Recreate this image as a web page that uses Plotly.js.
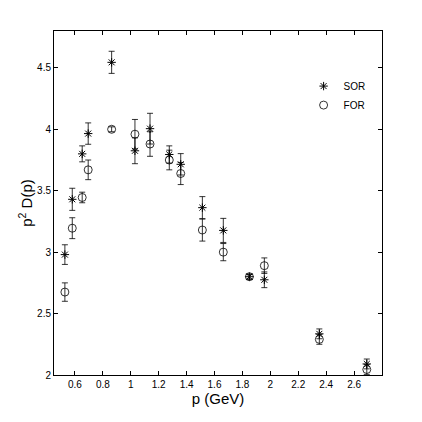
<!DOCTYPE html>
<html>
<head>
<meta charset="utf-8">
<script src="https://cdn.plot.ly/plotly-3.0.1.min.js"></script>
<style>
	html, body { margin: 0; padding: 0; background: #fff; }
	#plot { width: 422px; height: 422px; }
</style>
</head>
<body>
<div id="plot"></div>
<script>
(function(){

	'use strict';

	// momentum bins (GeV), shared by both series
	const pValues = [0.528, 0.581, 0.652, 0.695, 0.863, 1.03, 1.138, 1.276, 1.358, 1.513, 1.663, 1.85, 1.957, 2.351, 2.691];

	// SOR: p^2 D(p) and error
	const sorValues = [2.98, 3.43, 3.80, 3.965, 4.545, 3.825, 4.005, 3.795, 3.715, 3.362, 3.177, 2.80, 2.775, 2.335, 2.09];
	const sorErrors = [0.08, 0.09, 0.065, 0.087, 0.09, 0.105, 0.125, 0.07, 0.087, 0.09, 0.098, 0.02, 0.064, 0.04, 0.04];

	// FOR: p^2 D(p) and error
	const forValues = [2.675, 3.195, 3.445, 3.67, 4.0, 3.96, 3.88, 3.75, 3.64, 3.18, 3.0, 2.80, 2.89, 2.29, 2.045];
	const forErrors = [0.075, 0.085, 0.043, 0.08, 0.02, 0.12, 0.1, 0.08, 0.09, 0.09, 0.07, 0.02, 0.063, 0.04, 0.04];

	const xTicks = [0.6, 0.8, 1, 1.2, 1.4, 1.6, 1.8, 2, 2.2, 2.4, 2.6];
	const yTicks = [2, 2.5, 3, 3.5, 4, 4.5];

	const font = 'Liberation Sans, Arial, sans-serif';

	// error bar style shared by both traces
	const errBar = ( arr ) => ({
		type: 'data',
		array: arr,
		visible: true,
		color: '#000',
		thickness: 0.8,
		width: 3,
	});

	const sor = {
		x: pValues,
		y: sorValues,
		name: 'SOR',
		type: 'scatter',
		mode: 'markers',
		marker: { symbol: 'asterisk-open', size: 7, color: '#000', line: { color: '#000', width: 1 }},
		error_y: errBar( sorErrors ),
	};

	const fOR = {
		x: pValues,
		y: forValues,
		name: 'FOR',
		type: 'scatter',
		mode: 'markers',
		marker: { symbol: 'circle-open', size: 8, color: '#000', line: { color: '#000', width: 0.8 }},
		error_y: errBar( forErrors ),
	};

	// axis defaults: MATLAB style box with inside ticks
	const axis = ( range, ticks ) => ({
		range,
		tickmode: 'array',
		tickvals: ticks,
		ticks: 'inside',
		ticklen: 4,
		tickcolor: '#000',
		showline: true,
		linecolor: '#000',
		linewidth: 1,
		mirror: 'ticks',
		showgrid: false,
		zeroline: false,
		tickfont: { family: font, size: 10, color: '#000' },
	});

	const xaxis = Object.assign( axis([0.45, 2.8], xTicks ), {
		title: { text: 'p (GeV)', font: { family: font, size: 15, color: '#000' }, standoff: 4 },
	});

	const yaxis = Object.assign( axis([2, 4.8], yTicks ), {
		title: { text: 'p<sup>2</sup> D(p)', font: { family: font, size: 15, color: '#000' }, standoff: 0 },
	});

	const layout = {
		width: 422,
		height: 422,
		margin: { l: 54, r: 40, t: 31, b: 47 },
		paper_bgcolor: '#fff',
		plot_bgcolor: '#fff',
		showlegend: true,
		legend: {
			x: 0.761,
			y: 0.882,
			xanchor: 'left',
			yanchor: 'top',
			bgcolor: 'rgba(0,0,0,0)',
			font: { family: font, size: 10, color: '#000' },
			tracegroupgap: 0,
		},
		xaxis,
		yaxis,
	};

	Plotly.newPlot('plot', [ sor, fOR ], layout, { displayModeBar: false, staticPlot: true });

})();
</script>
</body>
</html>
